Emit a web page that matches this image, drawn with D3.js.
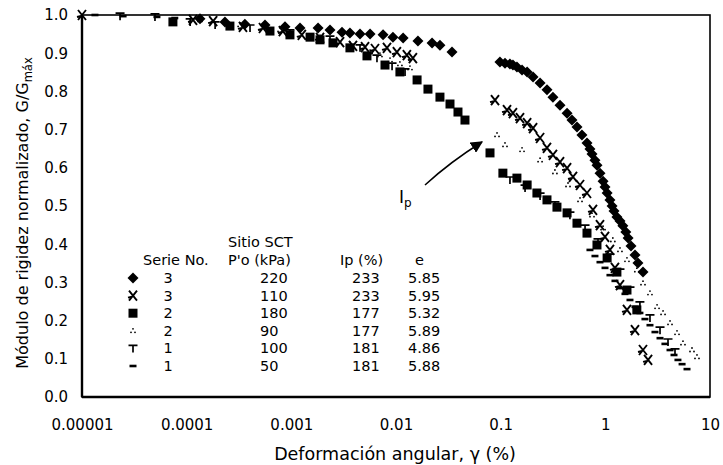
<!DOCTYPE html>
<html><head><meta charset="utf-8">
<script src="https://cdn.jsdelivr.net/npm/d3@7"></script>
<style>
body{margin:0;background:#fff}
svg{display:block}
text{font-family:"DejaVu Sans",sans-serif;fill:#000}
</style>
</head><body>
<svg id="c" width="723" height="465"></svg>
<script>
// ---- axes ----
const xTickValues = [0.00001, 0.0001, 0.001, 0.01, 0.1, 1, 10];
const xTickLabels = ["0.00001", "0.0001", "0.001", "0.01", "0.1", "1", "10"];
const yTickValues = [0, 0.1, 0.2, 0.3, 0.4, 0.5, 0.6, 0.7, 0.8, 0.9, 1.0];
const yTickLabels = ["0.0", "0.1", "0.2", "0.3", "0.4", "0.5", "0.6", "0.7", "0.8", "0.9", "1.0"];
const xTitle = "Deformación angular, γ (%)";
const yTitleMain = "Módulo de rigidez normalizado, G/G";
const yTitleSub = "máx";

// ---- legend table ----
const legendTitle = "Sitio SCT";
const legendHeaders = ["Serie No.", "P'o (kPa)", "Ip (%)", "e"];
const legendSerie = ["3", "3", "2", "2", "1", "1"];
const legendPo = ["220", "110", "180", "90", "100", "50"];
const legendIp = ["233", "233", "177", "177", "181", "181"];
const legendE = ["5.85", "5.95", "5.32", "5.89", "4.86", "5.88"];
const legendShapes = ["diamond", "star", "square", "dots", "tee", "dash"];

// ---- data: [gamma %, G/Gmax] ----
// Serie 3, P'o = 220 kPa (diamonds)
const serie3_220 = [
  [1.34e-4,0.990],[2.32e-4,0.982],[3.6e-4,0.976],[5.6e-4,0.974],[8.7e-4,0.969],[1.21e-3,0.966],
  [1.8e-3,0.966],[2.34e-3,0.961],[3.05e-3,0.955],[3.63e-3,0.953],[4.53e-3,0.950],[5.65e-3,0.950],
  [7.52e-3,0.948],[9.35e-3,0.942],[0.0117,0.940],[0.0162,0.932],[0.0221,0.927],[0.0263,0.921],[0.0343,0.903],
  [0.0984,0.877],[0.110,0.874],[0.1227,0.872],[0.131,0.869],[0.143,0.864],[0.160,0.856],[0.179,0.851],
  [0.204,0.838],[0.238,0.822],[0.277,0.804],[0.316,0.785],[0.369,0.764],
  [0.431,0.743],[0.480,0.725],[0.536,0.707],[0.598,0.686],[0.668,0.665],[0.713,0.649],[0.746,0.636],
  [0.796,0.620],[0.832,0.607],[0.889,0.586],[0.951,0.565],[0.993,0.550],[1.04,0.534],[1.107,0.516],
  [1.16,0.500],[1.21,0.487],[1.29,0.471],[1.38,0.461],[1.47,0.448],[1.57,0.432],[1.65,0.416],
  [1.76,0.395],[1.92,0.372],[2.05,0.351],[2.29,0.327]
];
// Serie 3, P'o = 110 kPa (stars)
const serie3_110 = [
  [1e-5,1.0],[1.15e-4,0.987],[1.79e-4,0.984],[3.45e-4,0.969],[5.36e-4,0.966],[8.3e-4,0.958],
  [1.26e-3,0.948],[1.88e-3,0.940],[2.92e-3,0.929],[3.88e-3,0.919],[5.06e-3,0.916],[6.3e-3,0.911],
  [8.2e-3,0.914],[0.0102,0.903],[0.0127,0.895],[0.0145,0.887],
  [0.0883,0.777],[0.115,0.751],[0.131,0.743],[0.153,0.730],[0.179,0.717],[0.204,0.704],[0.238,0.678],
  [0.277,0.652],[0.316,0.634],[0.369,0.615],[0.431,0.599],[0.491,0.576],[0.573,0.555],[0.668,0.534],
  [0.762,0.490],[0.889,0.450],[0.993,0.419],[1.107,0.385],[1.236,0.338],[1.38,0.293],[1.61,0.228],
  [1.92,0.175],[2.29,0.123],[2.56,0.097]
];
// Serie 2, P'o = 180 kPa (squares)
const serie2_180 = [
  [7.39e-5,0.982],[2.59e-4,0.971],[6.25e-4,0.958],[9.7e-4,0.948],[1.51e-3,0.942],[1.88e-3,0.935],
  [2.5e-3,0.927],[3.63e-3,0.914],[5.28e-3,0.893],[7.85e-3,0.869],[0.0109,0.851],[0.0159,0.830],
  [0.0202,0.806],[0.0263,0.785],[0.0328,0.767],[0.0391,0.746],[0.0456,0.725],[0.0791,0.639],
  [0.105,0.586],[0.143,0.573],[0.179,0.555],[0.222,0.534],[0.277,0.516],[0.345,0.497],[0.431,0.482],
  [0.536,0.455],[0.668,0.429],[0.832,0.398],[1.04,0.364],[1.29,0.327],[1.61,0.280],[2.00,0.228]
];
// Serie 2, P'o = 90 kPa (small dots)
const serie2_90 = [
  [1.34e-4,0.987],[3.24e-4,0.974],[7.8e-4,0.961],[1.88e-3,0.942],[3.63e-3,0.924],[5.65e-3,0.903],
  [7.03e-3,0.895],[8.77e-3,0.882],[0.0109,0.872],[0.0136,0.861],
  [0.0923,0.686],[0.110,0.660],[0.160,0.647],[0.238,0.620],[0.330,0.589],[0.440,0.555],[0.573,0.516],
  [0.746,0.476],[0.951,0.442],[1.18,0.411],[1.38,0.385],[1.61,0.359],[2.00,0.332],[2.29,0.298],
  [2.67,0.272],[3.12,0.236],[3.56,0.220],[4.15,0.194],[4.84,0.168],[5.52,0.141],[6.73,0.123],[7.51,0.105]
];
// Serie 1, P'o = 100 kPa (tees)
const serie1_100 = [
  [2.31e-5,0.997],[4.98e-5,0.995],[1.08e-4,0.982],[1.87e-4,0.974],[4.03e-4,0.966],[9.7e-4,0.953],
  [2.34e-3,0.937],[4.53e-3,0.914],[6.58e-3,0.887],[9.17e-3,0.866],[0.0122,0.851],
  [0.1227,0.568],[0.171,0.547],[0.238,0.526],[0.330,0.503],[0.459,0.476],[0.640,0.442],[0.851,0.406],
  [1.107,0.366],[1.38,0.327],[1.72,0.280],[2.14,0.241],[2.67,0.207],[3.33,0.175],[3.97,0.144],[4.63,0.118]
];
// Serie 1, P'o = 50 kPa (dashes)
const serie1_50 = [
  [1.33e-5,1.0],[2.47e-5,0.997],[5.2e-5,0.995],[7.7e-5,0.992],
  [0.713,0.385],[0.796,0.369],[0.889,0.353],[0.993,0.338],[1.107,0.319],[1.236,0.304],[1.38,0.285],
  [1.54,0.270],[1.72,0.254],[1.92,0.236],[2.14,0.220],[2.39,0.204],[2.67,0.188],[2.98,0.170],
  [3.33,0.154],[3.71,0.139],[4.15,0.123],[4.53,0.110],[4.94,0.097],[5.41,0.086],[6.03,0.073]
];

const seriesList = [
  {data: serie3_220, shape: "diamond"},
  {data: serie3_110, shape: "star"},
  {data: serie2_180, shape: "square"},
  {data: serie2_90, shape: "dots"},
  {data: serie1_100, shape: "tee"},
  {data: serie1_50, shape: "dash"}
];

const svg = d3.select("#c");
const x = d3.scaleLog().domain([1e-5, 10]).range([82, 710]);
const y = d3.scaleLinear().domain([0, 1]).range([397, 15]);

// y axis labels
const yAx = svg.append("g").attr("transform", `translate(${x.range()[0]},0)`)
  .call(d3.axisLeft(y).tickValues(yTickValues).tickFormat((d, i) => yTickLabels[i]).tickSize(0).tickPadding(14));
yAx.select(".domain").remove();
yAx.selectAll("text").attr("font-size", 15).attr("font-family", "DejaVu Sans");

// x axis labels
const xAx = svg.append("g").attr("transform", `translate(0,${y.range()[0]})`)
  .call(d3.axisBottom(x).tickValues(xTickValues).tickFormat((d, i) => xTickLabels[i]).tickSize(0).tickPadding(22));
xAx.select(".domain").remove();
xAx.selectAll("text").attr("font-size", 15).attr("font-family", "DejaVu Sans");

// frame
const [x0, x1] = x.range(), [y1, y0] = y.range();
svg.append("rect").attr("x", x0).attr("y", y0).attr("width", x1 - x0).attr("height", y1 - y0)
  .attr("fill", "none").attr("stroke", "#000").attr("stroke-width", 1.6);
svg.append("line").attr("x1", x0).attr("x2", x0).attr("y1", y0).attr("y2", y1).attr("stroke", "#000").attr("stroke-width", 2.4);
svg.append("line").attr("x1", x0).attr("x2", x1).attr("y1", y1).attr("y2", y1).attr("stroke", "#000").attr("stroke-width", 2.4);

// titles
svg.append("text").attr("x", 395).attr("y", 460).attr("text-anchor", "middle")
  .attr("font-size", 17.5).text(xTitle);
const yt = svg.append("text").attr("transform", "translate(28,213) rotate(-90)").attr("text-anchor", "middle")
  .attr("font-size", 16);
yt.append("tspan").text(yTitleMain);
yt.append("tspan").attr("font-size", 11.5).attr("dy", 4).text(yTitleSub);

// marker drawing
function drawMarker(g, shape) {
  if (shape === "diamond") {
    g.append("path").attr("d", "M0,-5.5L5.5,0L0,5.5L-5.5,0Z").attr("fill", "#000");
  } else if (shape === "square") {
    g.append("path").attr("d", "M-4.5,-4.5h9v9h-9Z").attr("fill", "#000");
  } else if (shape === "star") {
    g.append("path").attr("d", "M-4,-5L4,5M4,-5L-4,5M-1,1L-5,2").attr("stroke", "#000").attr("stroke-width", 1.9).attr("fill", "none");
  } else if (shape === "dots") {
    [[0,-2],[-2,1.5],[2,1.5]].forEach(p => g.append("circle").attr("cx", p[0]).attr("cy", p[1]).attr("r", 0.9).attr("fill", "#000"));
  } else if (shape === "tee") {
    g.append("path").attr("d", "M-4.5,-3L4.5,-3M0,-3L0,4").attr("stroke", "#000").attr("stroke-width", 1.7).attr("fill", "none");
  } else if (shape === "dash") {
    g.append("path").attr("d", "M-3.5,0L3.5,0").attr("stroke", "#000").attr("stroke-width", 2.6).attr("fill", "none");
  }
}

const plot = svg.append("g");
seriesList.forEach(s => {
  plot.selectAll(null).data(s.data).enter().append("g")
    .attr("transform", d => `translate(${x(d[0])},${y(d[1])})`)
    .each(function() { drawMarker(d3.select(this), s.shape); });
});

// legend table
const lg = svg.append("g").attr("font-size", 14.5);
lg.append("text").attr("x", 228).attr("y", 247).text(legendTitle);
lg.append("text").attr("x", 143).attr("y", 265).text(legendHeaders[0]);
lg.append("text").attr("x", 228).attr("y", 265).text(legendHeaders[1]);
lg.append("text").attr("x", 340).attr("y", 265).text(legendHeaders[2]);
lg.append("text").attr("x", 415).attr("y", 265).text(legendHeaders[3]);
const rowY = i => 278 + i * 17.6;
legendSerie.forEach((v, i) => {
  drawMarker(lg.append("g").attr("transform", `translate(133,${rowY(i)})`), legendShapes[i]);
  lg.append("text").attr("x", 168).attr("y", rowY(i) + 5).attr("text-anchor", "middle").text(v);
  lg.append("text").attr("x", 260).attr("y", rowY(i) + 5).text(legendPo[i]);
  lg.append("text").attr("x", 352).attr("y", rowY(i) + 5).text(legendIp[i]);
  lg.append("text").attr("x", 408).attr("y", rowY(i) + 5).text(legendE[i]);
});

// Ip annotation with arrow
svg.append("defs").append("marker").attr("id", "ah").attr("viewBox", "0 0 10 10").attr("refX", 9).attr("refY", 5)
  .attr("markerWidth", 8).attr("markerHeight", 8).attr("orient", "auto")
  .append("path").attr("d", "M0,0L10,5L0,10Z").attr("fill", "#000");
svg.append("path").attr("d", "M425,185Q450,162 482,142").attr("fill", "none").attr("stroke", "#000")
  .attr("stroke-width", 1.5).attr("marker-end", "url(#ah)");
const ip = svg.append("text").attr("x", 399).attr("y", 203).attr("font-size", 17);
ip.append("tspan").text("I");
ip.append("tspan").attr("font-size", 12).attr("dy", 4).text("p");
</script>
</body></html>
